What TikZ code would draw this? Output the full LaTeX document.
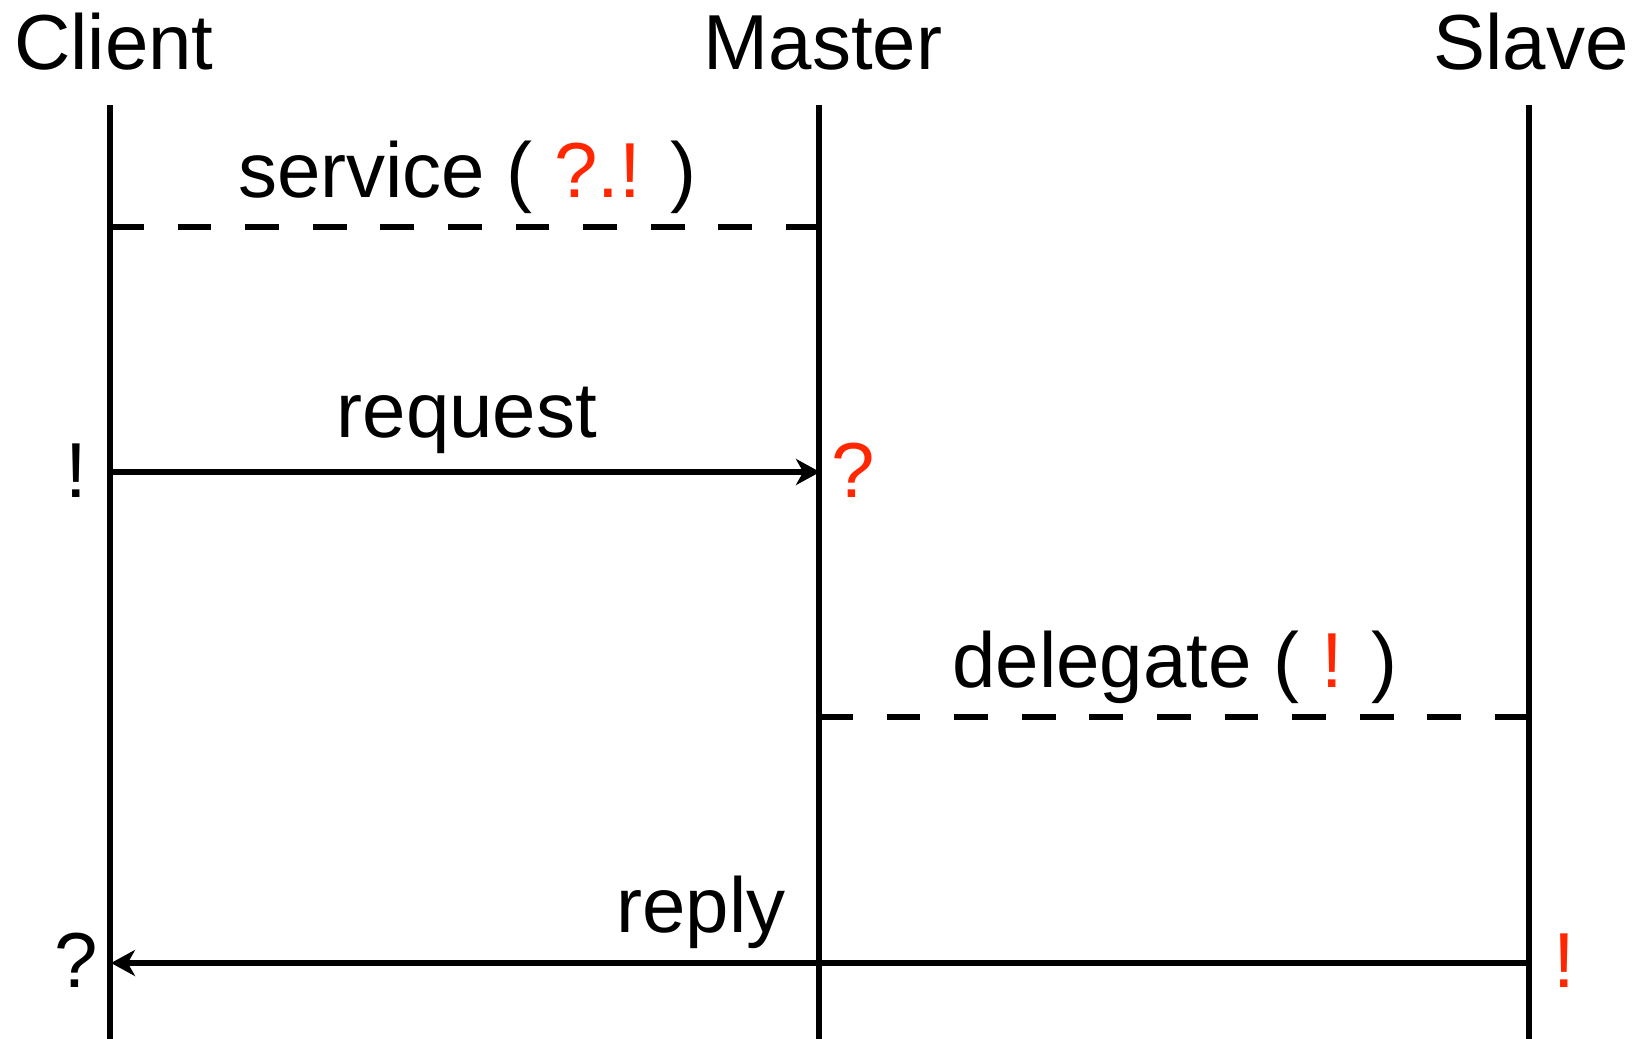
\documentclass[tikz,border=0pt]{standalone}
\usepackage{fontspec}
\setmainfont{Liberation Sans}
\usepackage{tikz}
\usepackage{xcolor}
\usetikzlibrary{arrows.meta}
\definecolor{markred}{RGB}{255,38,0}

\begin{document}
\begin{tikzpicture}[x=0.25pt,y=-0.25pt,
        line width=1.3pt,
        msg/.style={-{Stealth[length=6pt,width=6.5pt,inset=1.8pt]}},
        decl/.style={dash pattern=on 8.45pt off 8.45pt},
        lbl/.style={inner sep=0pt,anchor=base,font=\fontsize{19.5}{23}\selectfont},
        marker/.style={lbl}]
        \useasboundingbox (0,0) rectangle (1642,1039);

        % lifelines
        \coordinate (c-top) at (110,105);
        \coordinate (c-bot) at (110,1039);
        \coordinate (m-top) at (819,105);
        \coordinate (m-bot) at (819,1039);
        \coordinate (s-top) at (1529,105);
        \coordinate (s-bot) at (1529,1039);
        \draw (c-top) -- (c-bot);
        \draw (m-top) -- (m-bot);
        \draw (s-top) -- (s-bot);
        \node[lbl] (client) at (114,69) {Client};
        \node[lbl] (master) at (823,69) {Master};
        \node[lbl] (slave) at (1531,69) {Slave};

        % service declaration
        \coordinate (c-svc) at (110,227);
        \coordinate (m-svc) at (819,227);
        \draw[decl] (c-svc) -- (m-svc);
        \node[lbl] (svc) at (467,197) {service ( \textcolor{markred}{?.!} )};

        % request
        \coordinate (c-req) at (110,472);
        \coordinate (m-req) at (820,472);
        \draw[msg] (c-req) -- (m-req);
        \node[lbl] (req) at (467,437) {request};
        \node[marker] (req-out) at (76,497) {!};
        \node[marker,text=markred] (req-in) at (853.5,497) {?};

        % delegate declaration
        \coordinate (m-dlg) at (819,717);
        \coordinate (s-dlg) at (1529,717);
        \draw[decl] (m-dlg) -- (s-dlg);
        \node[lbl] (dlg) at (1175,687) {delegate ( \textcolor{markred}{!} )};

        % reply
        \coordinate (s-rep) at (1529,963);
        \coordinate (c-rep) at (111,963);
        \draw[msg] (s-rep) -- (c-rep);
        \node[lbl,anchor=base east] (rep) at (788,932) {reply};
        \node[marker] (rep-in) at (76,987) {?};
        \node[marker,text=markred] (rep-out) at (1564,987) {!};
    \end{tikzpicture}
\end{document}
